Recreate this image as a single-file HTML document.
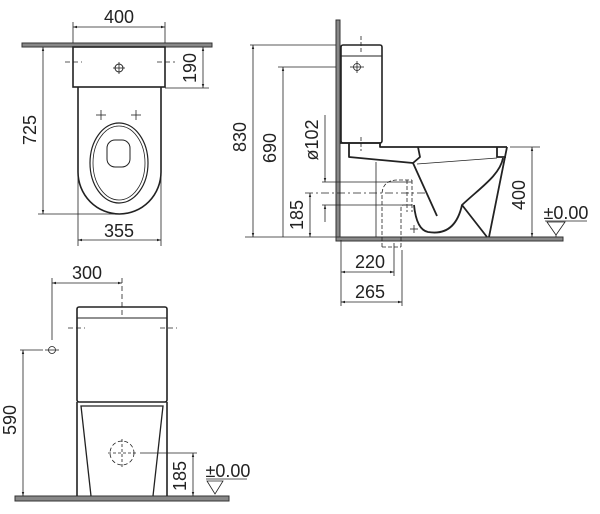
<!DOCTYPE html>
<html><head><meta charset="utf-8"><style>
html,body{margin:0;padding:0;background:#fff}
svg{display:block}
text{font-family:"Liberation Sans",sans-serif;font-size:18px;fill:#222}
</style></head><body>
<svg width="600" height="514" viewBox="0 0 600 514" xmlns="http://www.w3.org/2000/svg">
<defs>
<marker id="a" viewBox="0 0 10 10" refX="10" refY="5" markerWidth="7" markerHeight="5" orient="auto-start-reverse"><path d="M0,2 L10,5 L0,8 z" fill="#222"/></marker>
</defs>
<g stroke="#222" fill="none">
<!-- ===== TOP VIEW ===== -->
<rect x="22" y="43" width="190" height="4" fill="#888" stroke="#333" stroke-width="1"/>
<g stroke-width="0.8">
<line x1="73" y1="22" x2="73" y2="43"/><line x1="165" y1="22" x2="165" y2="43"/>
<line x1="73" y1="27" x2="165" y2="27" marker-start="url(#a)" marker-end="url(#a)"/>
<line x1="165" y1="88" x2="209" y2="88"/>
<line x1="203" y1="47" x2="203" y2="88" marker-start="url(#a)" marker-end="url(#a)"/>
<line x1="38" y1="214" x2="118" y2="214"/>
<line x1="43" y1="47" x2="43" y2="214" marker-start="url(#a)" marker-end="url(#a)"/>
<line x1="78" y1="170" x2="78" y2="246"/><line x1="161" y1="170" x2="161" y2="246"/>
<line x1="78" y1="240" x2="161" y2="240" marker-start="url(#a)" marker-end="url(#a)"/>
<line x1="65" y1="62" x2="82" y2="62" stroke-dasharray="5,3"/>
<line x1="157" y1="62" x2="175" y2="62" stroke-dasharray="5,3"/>
</g>
<rect x="73" y="47" width="92" height="40" stroke-width="1.6"/>
<path d="M78,87 L78,172 A41.5,42 0 0 0 161,172 L161,87" stroke-width="1.6"/>
<ellipse cx="119" cy="163" rx="29" ry="40" stroke-width="1.2"/>
<ellipse cx="119" cy="163" rx="26" ry="37" stroke-width="0.8"/>
<rect x="107" y="140" width="23" height="27" rx="8" stroke-width="1"/>
<circle cx="119" cy="68" r="4" stroke-width="1"/>
<g stroke-width="0.8"><line x1="113" y1="68" x2="125" y2="68"/><line x1="119" y1="62" x2="119" y2="74"/>
<line x1="96" y1="115" x2="106" y2="115"/><line x1="101" y1="110" x2="101" y2="120"/>
<line x1="131" y1="115" x2="141" y2="115"/><line x1="136" y1="110" x2="136" y2="120"/></g>

<!-- ===== SIDE VIEW ===== -->
<rect x="336" y="20" width="4" height="220" fill="#888" stroke="#333" stroke-width="1"/>
<rect x="336" y="237" width="227" height="4" fill="#888" stroke="#333" stroke-width="1"/>
<g stroke-width="0.8">
<line x1="250" y1="45" x2="336" y2="45"/>
<line x1="253" y1="45" x2="253" y2="237" marker-start="url(#a)" marker-end="url(#a)"/>
<line x1="245" y1="237" x2="336" y2="237"/>
<line x1="278" y1="67" x2="336" y2="67"/>
<line x1="283" y1="67" x2="283" y2="237" marker-start="url(#a)"/>
<line x1="325" y1="115" x2="325" y2="182" marker-end="url(#a)"/>
<line x1="322" y1="182" x2="412" y2="182"/>
<line x1="305" y1="193" x2="425" y2="193" stroke-dasharray="8,3,2,3"/>
<line x1="322" y1="205" x2="412" y2="205"/>
<line x1="310" y1="193" x2="310" y2="237" marker-start="url(#a)" marker-end="url(#a)"/>
<line x1="325" y1="205" x2="325" y2="222" marker-start="url(#a)"/>
<line x1="510" y1="147" x2="540" y2="147"/>
<line x1="532" y1="147" x2="532" y2="237" marker-start="url(#a)" marker-end="url(#a)"/>
<line x1="545" y1="221" x2="587" y2="221"/>
<path d="M547,222 L565,222 L556,235 z"/>
<line x1="556" y1="235" x2="556" y2="237"/>
<line x1="341" y1="240" x2="341" y2="306"/>
<line x1="394" y1="243" x2="394" y2="276"/>
<line x1="402" y1="250" x2="402" y2="306"/>
<line x1="341" y1="272" x2="394" y2="272" marker-start="url(#a)" marker-end="url(#a)"/>
<line x1="341" y1="302" x2="402" y2="302" marker-start="url(#a)" marker-end="url(#a)"/>
<line x1="361" y1="36" x2="361" y2="54" stroke-dasharray="4,2"/>
<line x1="361" y1="137" x2="361" y2="151" stroke-dasharray="4,2"/>
<circle cx="357" cy="67" r="3.5"/><line x1="350" y1="67" x2="364" y2="67"/><line x1="357" y1="61" x2="357" y2="73"/>
<line x1="376" y1="162" x2="376" y2="237"/>
<line x1="410" y1="229" x2="418" y2="229"/><line x1="414" y1="225" x2="414" y2="233"/>
<path d="M382,247 L382,195 Q382,180 398,180 L412,180 M401,247 L401,208 Q401,205 404,205 L412,205 M382,247 L401,247 M407,180 L407,212 M412,180 L412,212" stroke-dasharray="4,2"/>
<line x1="417" y1="164" x2="497" y2="158"/>
</g>
<rect x="341" y="45" width="41" height="98" rx="2" stroke-width="1.6"/>
<line x1="341" y1="56" x2="382" y2="56" stroke-width="1"/>
<g stroke-width="1.8" stroke-linejoin="round">
<path d="M340,143 L380,143 L380,147 L507,147"/>
<path d="M349,143 L349,157 L413,163 L420,157 L418,147"/>
<path d="M413,163 L437,216"/>
<path d="M497,147 L497,157 L506,157"/>
<path d="M507,147 L489,237"/>
<path d="M503,158 C500,175 480,188 462,205 L487,237"/>
<path d="M462,205 C456,232 440,234 428,232 C418,230 415,215 414,205"/>
</g>

<!-- ===== FRONT VIEW ===== -->
<rect x="15" y="496" width="214" height="5" fill="#888" stroke="#333" stroke-width="1"/>
<g stroke-width="0.8">
<line x1="52" y1="278" x2="52" y2="340"/>
<line x1="122" y1="278" x2="122" y2="315" stroke-dasharray="5,3"/>
<line x1="52" y1="283" x2="122" y2="283" marker-start="url(#a)" marker-end="url(#a)"/>
<line x1="68" y1="328" x2="85" y2="328" stroke-dasharray="5,3"/>
<line x1="160" y1="328" x2="177" y2="328" stroke-dasharray="5,3"/>
<circle cx="52" cy="350" r="3.5"/><line x1="45" y1="350" x2="59" y2="350"/>
<line x1="20" y1="350" x2="43" y2="350"/>
<line x1="23" y1="350" x2="23" y2="496" marker-start="url(#a)" marker-end="url(#a)"/>
<circle cx="122" cy="453" r="12" stroke-dasharray="4,2.5"/>
<line x1="108" y1="453" x2="136" y2="453" stroke-dasharray="3,2"/><line x1="122" y1="439" x2="122" y2="467" stroke-dasharray="3,2"/>
<line x1="140" y1="453" x2="197" y2="453"/>
<line x1="193" y1="453" x2="193" y2="496" marker-start="url(#a)" marker-end="url(#a)"/>
<line x1="206" y1="479" x2="247" y2="479"/>
<path d="M207,481 L223,481 L215,494 z"/>
</g>
<rect x="77" y="307" width="90" height="95" rx="2" stroke-width="1.6"/>
<line x1="77" y1="318" x2="167" y2="318" stroke-width="1"/>
<path d="M77,402 L77,496 M167,402 L167,496" stroke-width="1.6"/>
<path d="M91,496 L81,406 L163,406 L153,496" stroke-width="1.3"/>
</g>
<g>
<text x="119" y="23" text-anchor="middle">400</text>
<text transform="translate(200,68) rotate(-90)" text-anchor="middle" y="-4">190</text>
<text transform="translate(40,130) rotate(-90)" text-anchor="middle" y="-4">725</text>
<text x="119" y="237" text-anchor="middle">355</text>
<text transform="translate(250,137) rotate(-90)" text-anchor="middle" y="-4">830</text>
<text transform="translate(280,148) rotate(-90)" text-anchor="middle" y="-4">690</text>
<text transform="translate(322,140) rotate(-90)" text-anchor="middle" y="-4">ø102</text>
<text transform="translate(307,215) rotate(-90)" text-anchor="middle" y="-4">185</text>
<text transform="translate(529,195) rotate(-90)" text-anchor="middle" y="-4">400</text>
<text x="566" y="219" text-anchor="middle">±0.00</text>
<text x="370" y="268" text-anchor="middle">220</text>
<text x="370" y="298" text-anchor="middle">265</text>
<text x="87" y="279" text-anchor="middle">300</text>
<text transform="translate(20,420) rotate(-90)" text-anchor="middle" y="-4">590</text>
<text transform="translate(190,476) rotate(-90)" text-anchor="middle" y="-4">185</text>
<text x="228" y="477" text-anchor="middle">±0.00</text>
</g>
</svg>
</body></html>
